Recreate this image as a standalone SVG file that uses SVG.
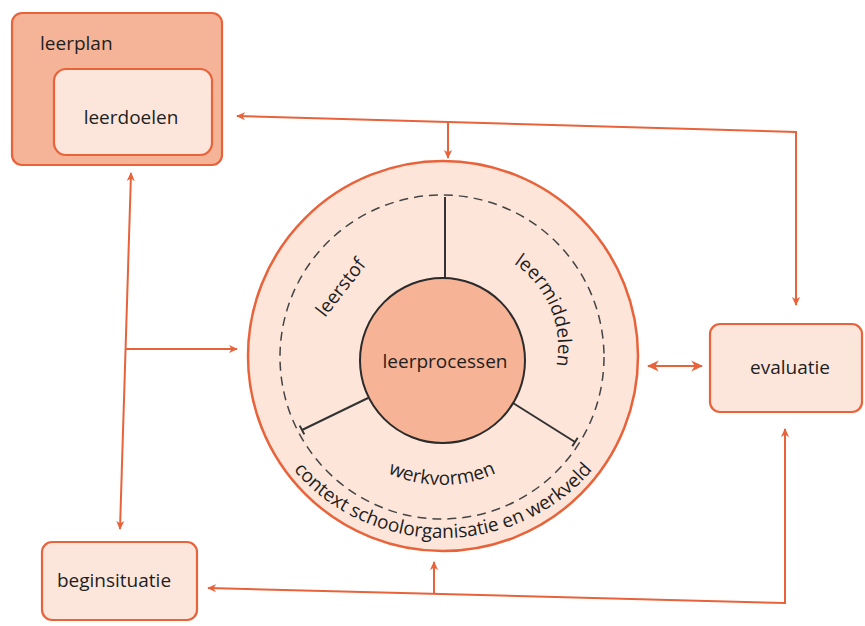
<svg xmlns="http://www.w3.org/2000/svg" width="865" height="626" viewBox="0 0 865 626">
<defs>
<marker id="ah" viewBox="0 0 10 10" refX="9" refY="5" markerWidth="9" markerHeight="9" orient="auto-start-reverse" markerUnits="userSpaceOnUse">
<path d="M0,0.5 L10,5 L0,9.5 L3,5 z" fill="#E8623A"/>
</marker>
<marker id="ahs" viewBox="0 0 10 10" refX="9" refY="5" markerWidth="12" markerHeight="12" orient="auto-start-reverse" markerUnits="userSpaceOnUse">
<path d="M0,0.5 L10,5 L0,9.5 L3,5 z" fill="#E8623A"/>
</marker>
<path id="pContext" d="M251 355 A192 183 0 0 0 635 355"/>
<path id="pWerk" d="M314 357 A128 128 0 0 0 570 357"/>
<path id="pMidd" d="M457 246 A101 101 0 0 1 507.5 434.5"/>
</defs>
<style>
.box{stroke:#E8623A;stroke-width:2.2}
.lbl{font-family:"Open Sans","Noto Sans",sans-serif;font-size:19px;fill:#1e1e1e}
.conn{fill:none;stroke:#E8623A;stroke-width:2}
.radial{stroke:#333;stroke-width:2;fill:none}
</style>
<rect width="865" height="626" fill="#ffffff"/>

<g id="leerplan">
<rect class="box" x="12" y="13" width="210" height="152" rx="10" fill="#F5B498"/>
<text class="lbl" x="40" y="50" font-size="18.5">leerplan</text>
</g>
<g id="leerdoelen">
<rect class="box" x="54" y="69" width="158" height="86" rx="12" fill="#FCE6DC"/>
<text class="lbl" x="131" y="124" text-anchor="middle">leerdoelen</text>
</g>
<g id="evaluatie">
<rect class="box" x="710" y="324" width="152" height="88" rx="10" fill="#FCE6DC"/>
<text class="lbl" x="790" y="374" text-anchor="middle">evaluatie</text>
</g>
<g id="beginsituatie">
<rect class="box" x="42" y="542" width="155" height="78" rx="10" fill="#FCE6DC"/>
<text class="lbl" x="114" y="587" text-anchor="middle">beginsituatie</text>
</g>

<g id="context">
<circle cx="443" cy="356" r="195" fill="#FDE5DA" stroke="#E8623A" stroke-width="2.5"/>
<circle cx="442" cy="357" r="162" fill="none" stroke="#444" stroke-width="1.5" stroke-dasharray="9 6"/>
<text class="lbl" font-size="20"><textPath href="#pContext" startOffset="50%" text-anchor="middle">context schoolorganisatie en werkveld</textPath></text>
</g>
<g id="leerstof">
<text class="lbl" transform="translate(325 318) rotate(-52)">leerstof</text>
</g>
<g id="leermiddelen">
<text class="lbl"><textPath href="#pMidd" startOffset="45%" text-anchor="middle">leermiddelen</textPath></text>
</g>
<g id="werkvormen">
<text class="lbl"><textPath href="#pWerk" startOffset="50%" text-anchor="middle">werkvormen</textPath></text>
</g>
<g id="dividers">
<path class="radial" d="M445 197 V278"/>
<path class="radial" d="M368 398 L302 430 M299.7 425.6 L304.3 434.4"/>
<path class="radial" d="M513 403 L575 442 M577.7 437.8 L572.3 446.2"/>
</g>
<g id="leerprocessen">
<circle cx="442.5" cy="360.5" r="82.5" fill="#F6B395" stroke="#2b2b2b" stroke-width="2"/>
<text class="lbl" x="445" y="368" text-anchor="middle" font-size="21.5">leerprocessen</text>
</g>

<g id="connectors">
<path class="conn" d="M796 305 V132 L237 116" marker-start="url(#ah)" marker-end="url(#ah)"/>
<path class="conn" d="M448 121 V158" marker-end="url(#ah)"/>
<path class="conn" d="M131 173 L120 529" marker-start="url(#ah)" marker-end="url(#ah)"/>
<path class="conn" d="M126 349 H237" marker-end="url(#ah)"/>
<path class="conn" d="M785 429 V603 L208 588" marker-start="url(#ah)" marker-end="url(#ah)"/>
<path class="conn" d="M434 593 V562" marker-end="url(#ah)"/>
<path class="conn" d="M648 366 H702" stroke-width="2.2" marker-start="url(#ahs)" marker-end="url(#ahs)"/>
</g>
</svg>
